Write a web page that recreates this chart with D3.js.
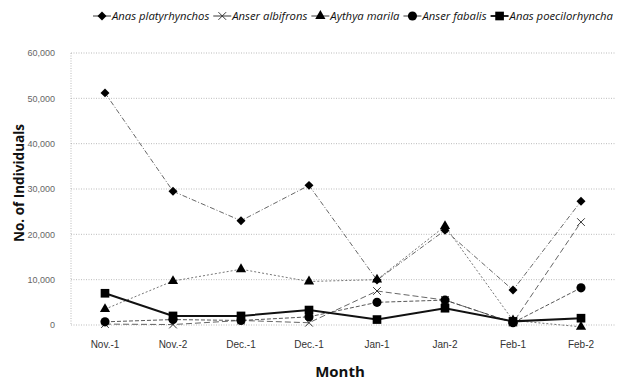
<!DOCTYPE html>
<html>
<head>
<meta charset="utf-8">
<script src="https://cdn.jsdelivr.net/npm/d3@7"></script>
<style>
  body { margin: 0; background: #fff; }
  svg { font-family: "Open Sans", "DejaVu Sans", sans-serif; }
</style>
</head>
<body>
<div id="chart"></div>
<script>
// categories along the x axis
const months = ["Nov.-1", "Nov.-2", "Dec.-1", "Dec.-1", "Jan-1", "Jan-2", "Feb-1", "Feb-2"];
const yTicks = [0, 10000, 20000, 30000, 40000, 50000, 60000];

// series values
const anasPlatyrhynchos = [51200, 29500, 23000, 30800, 9900, 20900, 7700, 27300];
const anserAlbifrons    = [200, 100, 1000, 500, 7500, 5500, 500, 22700];
const aythyaMarila      = [3500, 9700, 12300, 9600, 10000, 21800, 1000, -400];
const anserFabalis      = [700, 1200, 1000, 1800, 5000, 5500, 500, 8200];
const anasPoecilorhyncha= [7000, 2000, 2000, 3300, 1200, 3700, 800, 1500];

const series = [
  {name: "Anas platyrhynchos", values: anasPlatyrhynchos, symbol: "diamond", dash: "5,2,1,2", width: 0.9, color: "#555"},
  {name: "Anser albifrons", values: anserAlbifrons, symbol: "cross", dash: "6,3", width: 0.9, color: "#555"},
  {name: "Aythya marila", values: aythyaMarila, symbol: "triangle", dash: "2,2", width: 0.9, color: "#666"},
  {name: "Anser fabalis", values: anserFabalis, symbol: "circle", dash: "4,2", width: 0.9, color: "#444"},
  {name: "Anas poecilorhyncha", values: anasPoecilorhyncha, symbol: "square", dash: null, width: 2, color: "#111"}
];

const W = 623, H = 383;
const margin = {top: 53, right: 8, bottom: 58, left: 71};
const width = W - margin.left - margin.right;
const height = H - margin.top - margin.bottom;

const svg = d3.select("#chart").append("svg")
  .attr("width", W).attr("height", H);

const g = svg.append("g")
  .attr("transform", `translate(${margin.left}, ${margin.top})`);

const x = d3.scaleBand().domain(d3.range(months.length)).range([0, width]);
const y = d3.scaleLinear().domain([0, 60000]).range([height, 0]);

// gridlines
g.selectAll(".grid").data(yTicks).join("line")
  .attr("x1", 0).attr("x2", width)
  .attr("y1", d => y(d)).attr("y2", d => y(d))
  .attr("stroke", "#aaa").attr("stroke-width", 0.8)
  .attr("stroke-dasharray", "1,1.5");

g.append("line")
  .attr("x1", 0).attr("x2", 0).attr("y1", 0).attr("y2", height)
  .attr("stroke", "#aaa").attr("stroke-width", 0.8)
  .attr("stroke-dasharray", "1,1.5");

// y axis labels
const yAxis = g.append("g")
  .call(d3.axisLeft(y).tickValues(yTicks).tickFormat(d3.format(",")).tickSize(0).tickPadding(16));
yAxis.select(".domain").remove();
yAxis.selectAll("text").attr("font-size", 9).attr("fill", "#666");

// x axis labels
const xAxis = g.append("g")
  .attr("transform", `translate(0, ${height})`)
  .call(d3.axisBottom(x).tickFormat(i => months[i]).tickSize(0).tickPadding(16));
xAxis.select(".domain").remove();
xAxis.selectAll("text").attr("font-size", 10).attr("fill", "#333");

// axis titles
svg.append("text")
  .attr("x", margin.left + width / 2 - 3).attr("y", 377)
  .attr("text-anchor", "middle")
  .attr("font-size", 15).attr("font-weight", "bold").attr("fill", "#111")
  .text("Month");

svg.append("text")
  .attr("transform", `translate(24, ${margin.top + height / 2 - 6}) rotate(-90)`)
  .attr("text-anchor", "middle")
  .attr("font-size", 13.5).attr("font-weight", "bold").attr("fill", "#111")
  .text("No. of Individuals");

const symbolMap = {
  triangle: d3.symbolTriangle, circle: d3.symbolCircle, square: d3.symbolSquare
};

function drawMarker(sel, s) {
  if (s.symbol === "cross") {
    sel.append("path").attr("d", d3.symbol(d3.symbolX, 40)())
      .attr("fill", "none").attr("stroke", "#222").attr("stroke-width", 0.9);
  } else if (s.symbol === "diamond") {
    sel.append("path").attr("d", d3.symbol(d3.symbolSquare, 40)())
      .attr("transform", "rotate(45)")
      .attr("fill", "#000");
  } else {
    const size = {triangle: 45, circle: 65, square: 75}[s.symbol];
    sel.append("path").attr("d", d3.symbol(symbolMap[s.symbol], size)())
      .attr("fill", "#000");
  }
}

const line = d3.line()
  .x((d, i) => x(i) + x.bandwidth() / 2)
  .y(d => y(d));

series.forEach(s => {
  g.append("path")
    .datum(s.values)
    .attr("d", line)
    .attr("fill", "none")
    .attr("stroke", s.color)
    .attr("stroke-width", s.width)
    .attr("stroke-dasharray", s.dash);
});

series.forEach(s => {
  s.values.forEach((v, i) => {
    const m = g.append("g")
      .attr("transform", `translate(${x(i) + x.bandwidth() / 2}, ${y(v)})`);
    drawMarker(m, s);
  });
});

// legend
const legend = svg.append("g");
let lx = 112;
series.forEach(s => {
  const item = legend.append("g").attr("transform", `translate(${lx}, 16)`);
  item.append("line").attr("x1", -19).attr("x2", -1).attr("y1", 0).attr("y2", 0)
    .attr("stroke", "#222").attr("stroke-width", s.width);
  const m = item.append("g").attr("transform", "translate(-10, 0)");
  drawMarker(m, s);
  const t = item.append("text")
    .attr("x", 0).attr("y", 4)
    .attr("font-size", 11.3).attr("font-style", "italic").attr("fill", "#111")
    .text(s.name);
  lx += t.node().getComputedTextLength() + 23;
});
</script>
</body>
</html>
